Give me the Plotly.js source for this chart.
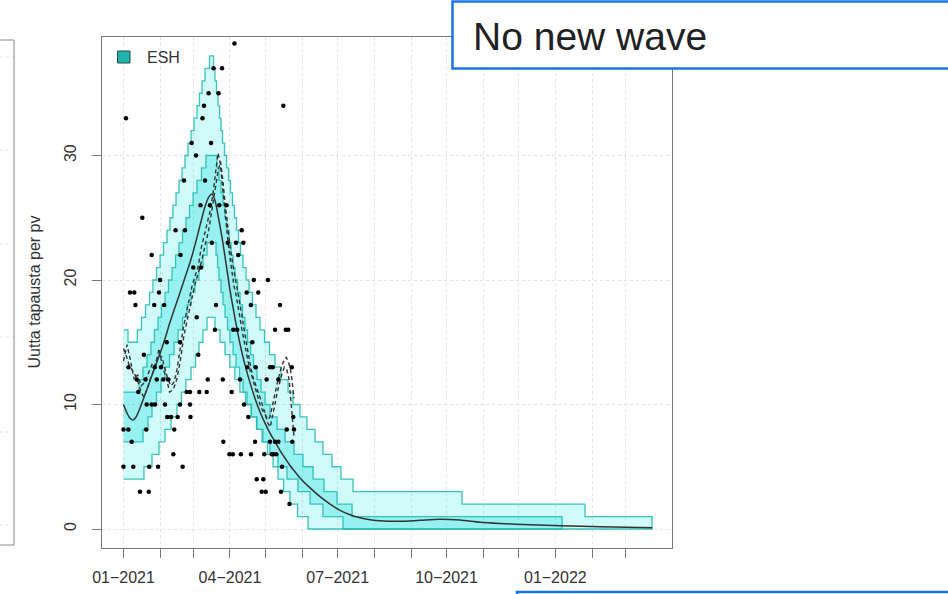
<!DOCTYPE html>
<html>
<head>
<meta charset="utf-8">
<script src="https://cdn.plot.ly/plotly-3.0.1.min.js"></script>
<style>html,body{margin:0;padding:0;background:#fff;}#chart{width:948px;height:594px;}</style>
</head>
<body>
<div id="chart"></div>
<script>
// ---------- DATA (days since 2021-01-01) ----------
const monthTicks = ['2021-01-01','2021-02-01','2021-03-01','2021-04-01','2021-05-01','2021-06-01','2021-07-01','2021-08-01','2021-09-01','2021-10-01','2021-11-01','2021-12-01','2022-01-01','2022-02-01','2022-03-01'];
const monthLabels = ['01\u22122021','','','04\u22122021','','','07\u22122021','','','10\u22122021','','','01\u22122022','',''];
const yTicks = [0, 10, 20, 30];
const seriesName = 'ESH';
const yTitle = 'Uutta tapausta per pv';
const noteText = 'No new wave';

// outer band (upper) step starts / values
const outerUpDays = [0,3.8,11.7,15.2,18.6,22.0,24.9,27.9,30.9,33.8,36.8,39.3,41.8,44.4,46.9,49.5,52.0,54.5,57.1,59.6,62.1,64.2,66.4,68.9,72.7,76.1,77.3,78.6,79.9,81.2,82.4,83.7,85.4,87.1,88.8,90.4,92.1,93.8,95.5,97.2,98.9,101.0,103.6,106.1,109.0,112.0,115.4,119.2,123.4,128.1,133.1,139.1,143.3,149.2,155.1,161.9,168.6,176.2,183.8,194.0,286.1,390.1];
const outerUpVals = [16,15,16,17,18,19,20,21,22,23,24,25,26,27,28,29,30,31,32,33,34,35,36,37,38,37,36,35,34,33,32,31,30,29,28,27,26,25,24,23,22,21,20,19,18,17,16,15,14,13,12,11,10,9,8,7,6,5,4,3,2,1];
const outerLoDays = [0,17.3,24.1,30.0,35.1,40.2,45.2,49.0,52.8,57.1,60.9,63.8,67.2,70.6,77.3,81.6,85.8,89.9,94.1,98.4,103.1,107.8,112.4,117.1,121.7,126.4,130.6,135.3,140.7,147.1,156.0];
const outerLoVals = [4,5,6,7,8,9,10,11,12,13,14,15,16,17,16,15,14,13,12,11,10,9,8,7,6,5,4,3,2,1,0];
const outerEnd = 446.8;

// inner band
const innerUpDays = [0,13.1,16.5,19.9,23.2,26.2,29.2,32.1,35.1,38.0,41.0,44.0,46.9,49.9,52.8,55.8,58.8,62.1,65.9,69.7,79.0,80.7,82.4,84.1,85.8,87.5,89.2,90.9,92.6,94.3,96.4,98.5,100.6,102.7,104.8,107.4,109.9,112.8,116.2,119.6,123.8,129.8,136.5,144.1,151.7,160.2,169.5,180.5,193.2];
const innerUpVals = [11,12,13,14,15,16,17,18,19,20,21,22,23,24,25,26,27,28,29,30,29,28,27,26,25,24,23,22,21,20,19,18,17,16,15,14,13,12,11,10,9,8,7,6,5,4,3,2,1];
const innerLoDays = [0,16.5,20.7,24.1,27.9,31.7,35.1,38.9,42.7,46.1,49.9,53.7,57.1,60.4,63.8,67.2,70.6,78.2,79.5,80.7,82.4,84.1,85.8,87.9,90.0,92.6,95.1,98.1,101.0,104.4,108.2,112.8,117.9,123.8,130.6,138.2,147.5,157.7,168.6,185.5];
const innerLoVals = [7,8,9,10,11,12,13,14,15,16,17,18,19,20,21,22,23,22,21,20,19,18,17,16,15,14,13,12,11,10,9,8,7,6,5,4,3,2,1,0];
const innerEnd = 370.7;

// smooth model curve
const curveDays = [0,3.0,5.5,8.0,10.6,13.9,18.2,22.4,26.6,30.9,35.1,39.3,43.5,47.8,52.0,56.2,60.4,64.7,68.9,72.3,74.8,77.3,79.9,83.3,86.7,90.0,94.3,98.4,102.6,106.8,111.1,115.4,119.6,123.8,128.1,132.3,136.5,140.7,144.9,149.2,157.7,166.1,174.6,183.0,191.5,199.9,208.4,216.9,233.8,250.6,267.5,284.4,301.3,318.2,343.6,369.0,402.8,446.8];
const curveVals = [10.0,9.3,8.9,8.75,9.0,9.7,10.8,11.9,13.0,14.1,15.3,16.6,17.8,19.0,20.2,21.4,22.8,24.4,25.9,26.7,26.9,26.4,25.2,23.4,21.3,19.2,16.9,14.9,13.2,11.8,10.5,9.4,8.5,7.7,7.0,6.3,5.7,5.1,4.6,4.1,3.3,2.6,2.0,1.5,1.15,0.9,0.75,0.66,0.62,0.7,0.78,0.72,0.55,0.45,0.34,0.27,0.18,0.1];

// dashed running averages
const dashADays = [0,2.1,4.6,7.2,9.7,12.3,14.8,17.3,19.9,22.4,24.9,27.5,30.0,32.5,35.1,37.6,40.2,42.7,45.2,47.8,50.3,52.8,55.4,57.9,60.4,63.0,65.5,68.0,70.6,73.1,75.7,78.2,79.9,81.6,83.3,85.0,86.7,88.4,90.0,91.7,93.4,95.1,96.8,98.4,100.1,101.9,103.6,105.2,106.9,108.6,110.3,112.0,113.7,115.4,117.1,118.8,120.5,122.2,123.8,125.5,127.2,128.9,130.6,132.3,134.0,135.7,137.4,139.1,140.7,142.4,144.1];
const dashAVals = [14.5,14.0,13.2,12.8,12.4,11.8,11.0,10.6,11.2,12.0,12.6,13.5,14.0,13.8,12.8,12.0,11.5,11.8,12.8,14.5,16.0,17.2,18.5,19.5,20.3,21.0,22.5,23.5,24.5,25.5,27.0,28.8,30.2,29.5,27.8,26.0,24.5,23.0,21.8,20.5,19.5,18.8,18.0,17.0,16.0,15.0,14.2,13.5,12.8,12.2,11.6,11.0,10.5,10.0,9.6,9.3,9.0,8.8,9.0,9.8,10.5,11.2,12.0,12.6,13.2,13.5,13.8,13.5,13.0,12.0,10.5];
const dashBDays = [0,3,6,9,12,15,18,21,24,27,30,33,36,39,42,45,48,51,54,57,60,63,66,69,72,75,78,80,82,84,86,88,90,92,94,96,98,100,102,104,106,108,110,112,114,116,118,120,122,124,126,128,130,132,134,136,138,140,142,144];
const dashBVals = [13.5,14.8,13.5,12.0,12.4,11.5,11.8,12.5,13.2,13.0,14.5,13.0,12.2,11.0,11.2,12.0,13.5,15.5,16.8,18.0,19.5,20.5,21.5,22.8,24.0,25.8,27.5,28.8,29.5,28.0,26.0,24.2,22.8,21.5,20.5,19.5,18.5,17.2,16.0,14.8,13.8,12.8,12.0,11.5,11.0,10.4,9.8,9.2,8.5,8.2,9.0,10.0,11.0,11.8,12.5,13.0,12.8,12.0,10.0,7.5];

// daily observed cases
const obsDays = [93.8,76.1,83.3,71.9,80.3,68.0,135.1,2.1,66.8,57.6,74.0,61.3,51.1,68.9,65.1,73.1,81.0,87.1,15.9,44.0,52.0,99.9,74.6,88.1,95.1,101.3,23.8,48.2,97.0,59.0,65.5,30.9,110.1,122.1,5.5,9.1,30.0,104.1,113.9,10.1,26.0,34.4,78.2,107.6,132.3,61.9,77.3,92.8,96.1,128.1,137.2,139.2,36.5,47.8,108.9,17.2,63.2,4.2,26.4,31.7,104.6,111.7,123.8,126.1,142.2,11.2,18.6,28.1,33.6,37.9,71.2,83.9,98.5,121.0,130.9,12.5,53.4,56.2,64.1,70.3,91.5,19.6,23.8,26.6,35.1,47.8,56.2,101.9,37.0,40.2,45.8,56.6,105.5,143.5,0.0,4.1,19.2,42.9,138.0,144.1,6.9,84.4,111.2,123.8,128.1,130.9,142.7,42.1,89.6,92.4,99.2,107.8,119.0,125.3,126.6,129.1,0.0,8.3,21.8,29.2,50.0,134.0,112.6,118.2,13.9,21.3,116.8,120.2,133.1,140.3];
const obsVals = [39,37,37,35,35,34,34,33,33,31,31,30,28,28,26,26,26,26,25,24,24,24,23,23,23,23,22,22,22,21,21,20,20,20,19,19,19,19,19,18,18,18,18,18,18,17,16,16,16,16,16,16,15,15,15,14,14,13,13,13,13,13,13,13,13,12,12,12,12,12,12,12,12,12,12,11,11,11,11,11,11,10,10,10,10,10,10,10,9,9,9,9,9,9,8,8,8,8,8,8,7,7,7,7,7,7,7,6,6,6,6,6,6,6,6,6,5,5,5,5,5,5,4,4,3,3,3,3,3,2];

// ---------- helpers ----------
const BASE = Date.UTC(2021, 0, 1);
const toDate = d => new Date(BASE + d * 86400000).toISOString().replace('T', ' ').replace('Z', '');
function stepPath(days, vals, end) {
  const x = [], y = [];
  for (let i = 0; i < days.length; i++) {
    if (i > 0) { x.push(days[i]); y.push(vals[i - 1]); }
    x.push(days[i]); y.push(vals[i]);
  }
  x.push(end); y.push(vals[vals.length - 1]);
  return {x, y};
}
function band(upD, upV, loD, loV, end) {
  const u = stepPath(upD, upV, end), l = stepPath(loD, loV, end);
  return {x: u.x.concat(l.x.slice().reverse()).map(toDate), y: u.y.concat(l.y.slice().reverse())};
}
const outer = band(outerUpDays, outerUpVals, outerLoDays, outerLoVals, outerEnd);
const inner = band(innerUpDays, innerUpVals, innerLoDays, innerLoVals, innerEnd);

const edge = 'rgba(38,188,178,0.9)';
const traces = [
  {x: outer.x, y: outer.y, type: 'scatter', mode: 'lines', fill: 'toself', fillcolor: 'rgba(0,230,230,0.18)', line: {color: edge, width: 1.3}, name: seriesName, showlegend: false},
  {x: inner.x, y: inner.y, type: 'scatter', mode: 'lines', fill: 'toself', fillcolor: 'rgba(0,220,220,0.28)', line: {color: edge, width: 1.3}, showlegend: false},
  {x: dashADays.map(toDate), y: dashAVals, type: 'scatter', mode: 'lines', line: {color: '#333', width: 1.4, dash: '4px,3px'}, showlegend: false},
  {x: dashBDays.map(toDate), y: dashBVals, type: 'scatter', mode: 'lines', line: {color: '#333', width: 1.4, dash: '4px,3px'}, showlegend: false},
  {x: curveDays.map(toDate), y: curveVals, type: 'scatter', mode: 'lines', line: {color: '#333', width: 1.5, shape: 'spline', smoothing: 0.8}, showlegend: false},
  {x: obsDays.map(toDate), y: obsVals, type: 'scatter', mode: 'markers', marker: {color: '#000', size: 4.5}, showlegend: false}
];

// pixel -> paper helpers for decorations
const L = 102, R = 672, T = 37, B = 548;
const PX = p => (p - L) / (R - L);
const PY = p => (B - p) / (B - T);
const font = 'Liberation Sans, Arial, sans-serif';
const dotted = {color: '#e2e2e2', width: 1, dash: 'dot'};

const shapes = [
  // left neighbouring panel frame
  {type: 'path', xref: 'paper', yref: 'paper', path: `M ${PX(-2)},${PY(40)} L ${PX(14)},${PY(40)} L ${PX(14)},${PY(545)} L ${PX(-2)},${PY(545)}`, line: {color: '#888', width: 1}},
  ...[57, 150, 244, 337, 432, 525].map(v => ({type: 'line', xref: 'paper', yref: 'paper', x0: PX(0), x1: PX(13), y0: PY(v), y1: PY(v), line: dotted})),
  // legend key
  {type: 'rect', xref: 'paper', yref: 'paper', x0: PX(117.5), x1: PX(130), y0: PY(51), y1: PY(63), fillcolor: '#1fb3aa', line: {color: '#2a4a48', width: 1}},
  // note box
  {type: 'rect', xref: 'paper', yref: 'paper', x0: PX(452.5), x1: PX(965), y0: PY(1.5), y1: PY(68.5), fillcolor: '#fff', line: {color: '#1a73e8', width: 2.5}, layer: 'above'},
  // bottom box edge
  {type: 'rect', xref: 'paper', yref: 'paper', x0: PX(517), x1: PX(965), y0: PY(592), y1: PY(640), fillcolor: '#fff', line: {color: '#1a73e8', width: 2.5}, layer: 'above'}
];

const annotations = [
  {xref: 'paper', yref: 'paper', x: PX(145), y: PY(57), text: seriesName, showarrow: false, xanchor: 'left', yanchor: 'middle', font: {family: font, size: 16, color: '#333'}},
  {xref: 'paper', yref: 'paper', x: PX(34), y: 0.5, text: yTitle, showarrow: false, textangle: -90, xanchor: 'center', yanchor: 'middle', font: {family: font, size: 16, color: '#333'}},
  {xref: 'paper', yref: 'paper', x: PX(471), y: PY(36), text: noteText, showarrow: false, xanchor: 'left', yanchor: 'middle', font: {family: font, size: 39, color: '#202124'}}
];

const layout = {
  width: 948, height: 594,
  margin: {l: L, r: 948 - R, t: T, b: 594 - B, pad: 0},
  paper_bgcolor: '#fff', plot_bgcolor: '#fff',
  showlegend: false,
  xaxis: {
    type: 'date', range: [toDate(-18.17), toDate(463.6)],
    tickmode: 'array', tickvals: monthTicks, ticktext: monthLabels,
    ticks: 'outside', ticklen: 9, tickwidth: 1, tickcolor: '#777',
    showline: true, linecolor: '#777', linewidth: 1, mirror: true,
    showgrid: true, gridcolor: '#e2e2e2', griddash: 'dot', gridwidth: 1,
    zeroline: false, tickfont: {family: font, size: 16, color: '#333'},
    ticklabelstandoff: 6
  },
  yaxis: {
    range: [-1.526, 39.52],
    tickmode: 'array', tickvals: yTicks, ticktext: yTicks.map(String), tickangle: -90,
    ticks: 'outside', ticklen: 9, tickwidth: 1, tickcolor: '#777',
    showline: true, linecolor: '#777', linewidth: 1, mirror: true,
    showgrid: true, gridcolor: '#e2e2e2', griddash: 'dot', gridwidth: 1,
    zeroline: false, tickfont: {family: font, size: 16, color: '#333'},
    ticklabelstandoff: 10
  },
  shapes, annotations,
  hovermode: false
};

Plotly.newPlot('chart', traces, layout, {staticPlot: true, displayModeBar: false});
</script>
</body>
</html>
